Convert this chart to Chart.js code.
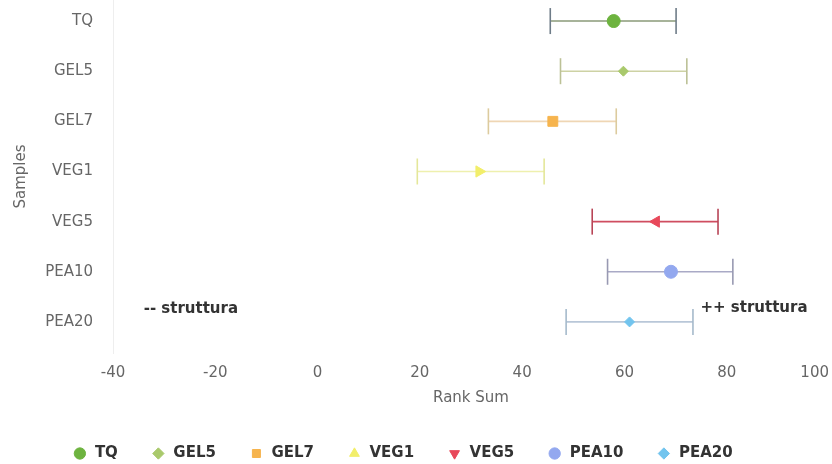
<!DOCTYPE html>
<html>
<head>
<meta charset="utf-8">
<title>Rank Sum</title>
<script src="https://cdn.jsdelivr.net/npm/chart.js@4/dist/chart.umd.min.js"></script>
<style>
  html, body { margin: 0; padding: 0; background: #fff; }
  #wrap { width: 832px; height: 464px; position: relative; }
</style>
</head>
<body>
<div id="wrap"><canvas id="chart"></canvas></div>
<script>
// samples, rank sums and their confidence limits
const samples = ['TQ', 'GEL5', 'GEL7', 'VEG1', 'VEG5', 'PEA10', 'PEA20'];
const rankSum = [57.9, 59.8, 46.0, 31.6, 66.2, 69.1, 61.0];
const lowerLimit = [45.5, 47.5, 33.4, 19.5, 53.7, 56.7, 48.6];
const upperLimit = [70.1, 72.2, 58.4, 44.3, 78.3, 81.2, 73.4];
const xTicks = [-40, -20, 0, 20, 40, 60, 80, 100];

// styling per sample
const markerColors = ['#6db33f', '#a9c96c', '#f6b44e', '#f2ee6a', '#e8485a', '#93a8ef', '#72c4ee'];
const barColors = ['#8a9a78', '#cdd2a4', '#efd6b4', '#eef0ae', '#cf4d60', '#a9aac6', '#b9c7d8'];
const capColors = ['#6e7c88', '#bcc196', '#dccb9e', '#e4e79a', '#b84456', '#9899b2', '#a5bacb'];
const markerStyles = ['circle', 'rectRot', 'rect', 'triangle', 'triangle', 'circle', 'rectRot'];
const markerRotation = [0, 0, 0, 90, -90, 0, 0];
const legendRotation = [0, 0, 0, 0, 180, 0, 0];
const markerRadius = [6.5, 5, 7, 6.5, 6.5, 6.5, 5];

const notes = [
  { text: '-- struttura', x: -34, y: 5.74, align: 'left' },
  { text: '++ struttura', x: 95.8, y: 5.72, align: 'right' }
];

const FONT = "'DejaVu Sans', sans-serif";

const markerSets = samples.map((s, i) => ({
  label: s,
  data: [{ x: rankSum[i], y: i }],
  pointStyle: markerStyles[i],
  rotation: markerRotation[i],
  radius: markerRadius[i],
  backgroundColor: markerColors[i],
  borderColor: markerColors[i],
  borderWidth: 1,
  order: 0
}));

const barSets = samples.map((s, i) => ({
  label: '',
  data: [{ x: lowerLimit[i], y: i }, { x: upperLimit[i], y: i }],
  showLine: true,
  borderColor: barColors[i],
  borderWidth: 1.6,
  pointStyle: 'line',
  rotation: 90,
  radius: 13,
  pointBorderColor: capColors[i],
  pointBorderWidth: 1.6,
  order: 1
}));

// text notes and the last x tick label, drawn against the scales
const extraText = {
  id: 'extraText',
  afterLayout(chart) {
    // legend in the original sits a little left of centre
    if (chart.legend) chart.legend.right -= 24;
  },
  afterDraw(chart) {
    const ctx = chart.ctx, xs = chart.scales.x, ys = chart.scales.y;
    ctx.save();
    ctx.font = "bold 15px " + FONT;
    ctx.fillStyle = '#333';
    ctx.textBaseline = 'middle';
    notes.forEach(n => {
      ctx.textAlign = n.align;
      ctx.fillText(n.text, xs.getPixelForValue(n.x), ys.getPixelForValue(n.y));
    });
    // last tick sits flush with the right edge, same baseline as the others
    const items = xs._labelItems || [];
    const ref = items.find(it => it.label === '80');
    let y = xs.top + 11, base = 'top';
    if (ref) { y = ref.options.translation[1] + (ref.textOffset || 0); base = ref.options.textBaseline || 'middle'; }
    ctx.font = "15px " + FONT;
    ctx.fillStyle = '#666';
    ctx.textAlign = 'right';
    ctx.textBaseline = base;
    ctx.fillText(String(xTicks[xTicks.length - 1]), chart.width - 3, y);
    ctx.restore();
  }
};

new Chart(document.getElementById('chart'), {
  type: 'scatter',
  data: { datasets: markerSets.concat(barSets) },
  options: {
    responsive: true,
    maintainAspectRatio: false,
    animation: false,
    layout: { autoPadding: false, padding: { left: 0, right: 3, top: 0, bottom: -7 } },
    scales: {
      x: {
        type: 'linear',
        min: xTicks[0],
        max: xTicks[xTicks.length - 1],
        grid: { display: false, drawTicks: false },
        border: { display: false },
        afterBuildTicks: s => { s.ticks = xTicks.map(v => ({ value: v })); },
        afterFit: s => { s.paddingRight = 0; s.paddingLeft = 0; s.height = 60; },
        ticks: {
          padding: 11,
          maxRotation: 0,
          color: '#666',
          font: { family: FONT, size: 15 },
          callback: v => (v === xTicks[xTicks.length - 1] ? '' : String(v))
        },
        title: { display: true, text: 'Rank Sum', color: '#666', font: { family: FONT, size: 15 }, padding: { top: 6, bottom: 6 } }
      },
      y: {
        type: 'linear',
        reverse: true,
        min: -0.42,
        max: 6.62,
        grid: { display: false, drawTicks: false },
        border: { display: true, color: '#eeeeee' },
        afterBuildTicks: s => { s.ticks = samples.map((_, i) => ({ value: i })); },
        afterFit: s => { s.width = 113; s.paddingTop = 0; s.paddingBottom = 0; },
        ticks: {
          padding: 20,
          color: '#666',
          font: { family: FONT, size: 15 },
          callback: v => samples[v]
        },
        title: { display: true, text: 'Samples', color: '#666', font: { family: FONT, size: 15 }, padding: { top: 12, bottom: 0 } }
      }
    },
    plugins: {
      tooltip: { enabled: false },
      legend: {
        position: 'bottom',
        labels: {
          usePointStyle: true,
          boxWidth: 16,
          boxHeight: 8,
          padding: 33,
          color: '#333',
          font: { family: FONT, size: 15, weight: 'bold' },
          filter: item => item.text !== '',
          generateLabels: chart => {
            const items = Chart.defaults.plugins.legend.labels.generateLabels(chart);
            items.forEach(it => {
              if (it.datasetIndex < samples.length) it.rotation = legendRotation[it.datasetIndex];
            });
            return items;
          }
        }
      }
    }
  },
  plugins: [extraText]
});
</script>
</body>
</html>
